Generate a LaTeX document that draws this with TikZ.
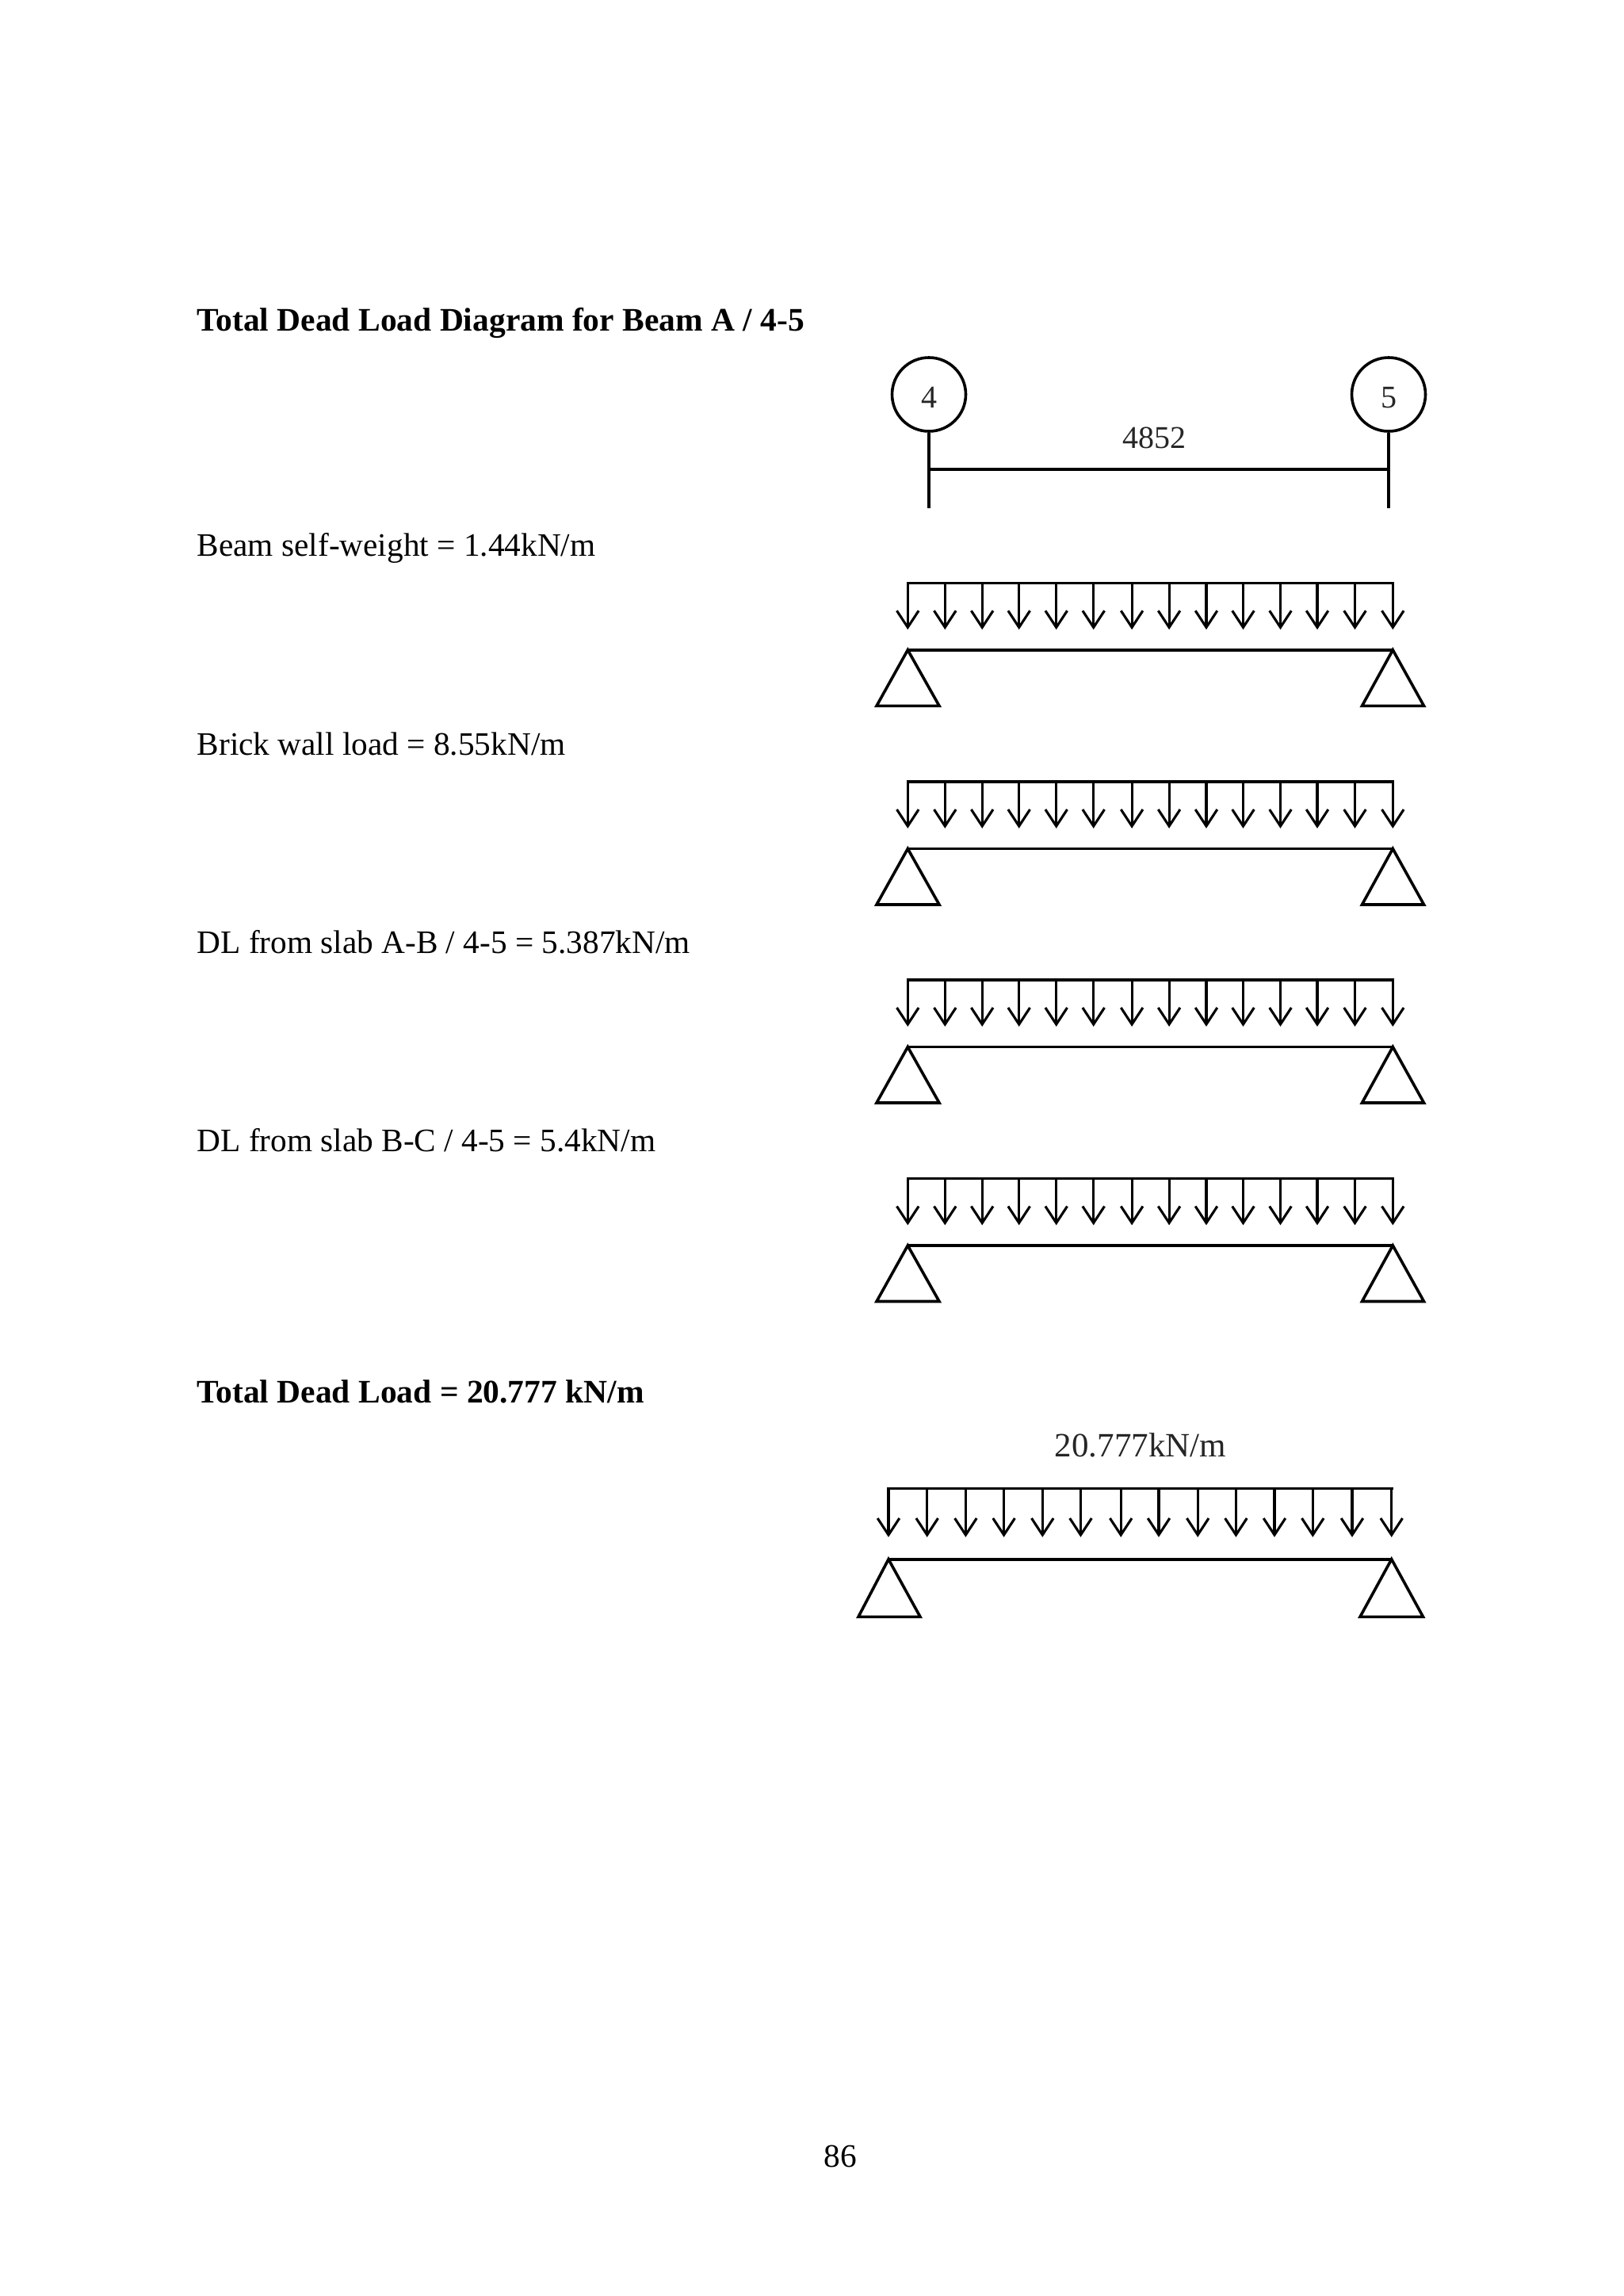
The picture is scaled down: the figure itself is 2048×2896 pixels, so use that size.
\documentclass[tikz,border=0pt]{standalone}
\usepackage{fontspec}
\setmainfont{Liberation Serif}
\tikzset{
  ln/.style={line width=3.6pt,line join=miter},
  arr/.style={line width=3.1pt},
  txt/.style={anchor=base west,inner sep=0pt,font=\fontsize{41.3pt}{50pt}\selectfont},
  boldtxt/.style={anchor=base west,inner sep=0pt,font=\fontsize{41.5pt}{50pt}\selectfont\bfseries},
  dwg/.style={inner sep=0pt,text=black!85,font=\fontsize{40pt}{48pt}\selectfont},
  gridcircle/.style={draw,circle,ln,minimum size=93pt,dwg,text height=34pt,text depth=0pt}
}
\newcommand{\beamset}[2]{%
  % #1 name; #2 top y
  \coordinate (#1TL) at (1145.3,-#2);
  \coordinate (#1TR) at (1757.3,-#2);
  \draw[ln,line cap=rect] (#1TL) -- (#1TR);
  \foreach \ax in {1145.3,1192.3,1239.2,1285.7,1332.7,1379.7,1428.1,1475.1,1522,1568.5,1615.5,1662,1709.5,1757.3}{
    \coordinate (#1S) at (\ax,-#2);
    \coordinate (#1E) at (\ax,-#2-56);
    \draw[arr] (#1S) -- (#1E);
    \draw[arr] (\ax-13.8,-#2-35) -- (#1E) -- (\ax+13.8,-#2-35);
  }
  \coordinate (#1BL) at (1145.3,-#2-84.5);
  \coordinate (#1BR) at (1757.3,-#2-84.5);
  \draw[ln] (#1BL) -- (#1BR);
  \draw[ln] (#1BL) -- (1106,-#2-155) -- (1185,-#2-155) -- cycle;
  \draw[ln] (#1BR) -- (1718.5,-#2-155) -- (1796.5,-#2-155) -- cycle;
}
\begin{document}
\begin{tikzpicture}[x=1pt,y=1pt]
\useasboundingbox[fill=white] (0,0) rectangle (2048,-2896);
\node[boldtxt] (t0) at (248.5,-417) {Total Dead Load Diagram for Beam A / 4-5};
\node[txt] (t1) at (248.5,-701) {Beam self-weight = 1.44kN/m};
\node[txt] (t2) at (248.5,-952) {Brick wall load = 8.55kN/m};
\node[txt] (t3) at (248.5,-1202) {DL from slab A-B / 4-5 = 5.387kN/m};
\node[txt] (t4) at (248.5,-1452) {DL from slab B-C / 4-5 = 5.4kN/m};
\node[boldtxt] (t5) at (248.5,-1769) {Total Dead Load = 20.777 kN/m};
\node[txt,anchor=base] (pg) at (1060,-2733) {86};
% grid
\node[gridcircle] (c4) at (1172,-497.5) {4};
\node[gridcircle] (c5) at (1752,-497.5) {5};
\coordinate (e4) at (1172,-641);
\coordinate (e5) at (1752,-641);
\coordinate (d4) at (1172,-592);
\coordinate (d5) at (1752,-592);
\draw[ln] (c4) -- (e4);
\draw[ln] (c5) -- (e5);
\draw[ln] (d4) -- (d5);
\node[dwg] (dim) at (1456.5,-552) {4852};
\beamset{a}{735.3}
\beamset{b}{986}
\beamset{c}{1236}
\beamset{d}{1486.5}
% total
\coordinate (fTL) at (1121,-1877.3);
\coordinate (fTR) at (1755.7,-1877.3);
\draw[ln,line cap=rect] (fTL) -- (fTR);
\foreach \ax in {1121,1169.7,1218.4,1266.6,1315.3,1363.5,1414.2,1462,1511.2,1559.4,1608,1656.3,1706,1755.7}{
  \coordinate (fS) at (\ax,-1877.3);
  \coordinate (fE) at (\ax,-1936);
  \draw[arr] (fS) -- (fE);
  \draw[arr] (\ax-13.8,-1915) -- (fE) -- (\ax+13.8,-1915);
}
\coordinate (fBL) at (1121,-1966.7);
\coordinate (fBR) at (1755.7,-1966.7);
\draw[ln] (fBL) -- (fBR);
\draw[ln] (fBL) -- (1083,-2039.3) -- (1161,-2039.3) -- cycle;
\draw[ln] (fBR) -- (1716,-2039.3) -- (1795.5,-2039.3) -- cycle;
\node[dwg,font=\fontsize{43pt}{50pt}\selectfont] (tot) at (1439,-1823) {20.777kN/m};
\end{tikzpicture}
\end{document}
